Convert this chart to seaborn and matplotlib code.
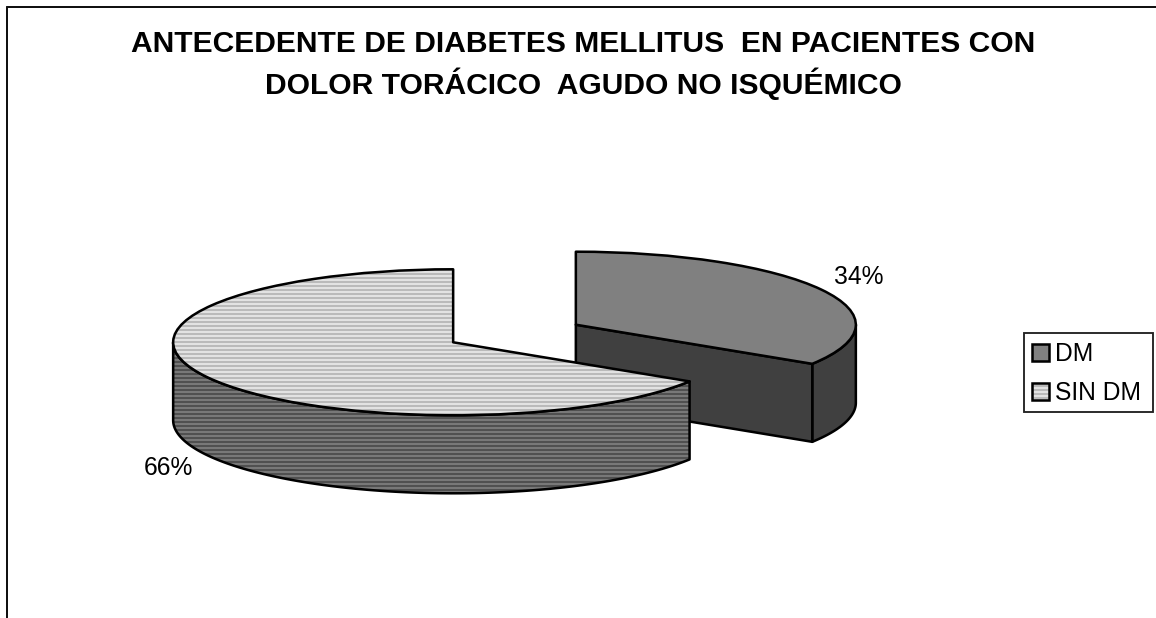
import numpy as np
import matplotlib
matplotlib.use("Agg")
import matplotlib.pyplot as plt
import seaborn as sns
from matplotlib.colors import to_rgba
from matplotlib.lines import Line2D
from matplotlib.patches import Patch, Rectangle

# Data
categories = ["DM", "SIN DM"]
shares = [34, 66]
pct_labels = ["34%", "66%"]
title_lines = ["ANTECEDENTE DE DIABETES MELLITUS  EN PACIENTES CON",
               "DOLOR TORÁCICO  AGUDO NO ISQUÉMICO"]

# Styling
top_colors = ["#808080", "#e2e2e2"]
wall_colors = ["#404040", "#787878"]
top_stripes = [None, "#bababa"]
wall_stripes = [None, "#505050"]
HATCH = "----"
W, H, DPI = 1156, 618, 96
RX, RY, DEPTH = 280.0, 73.0, 78.0   # ellipse radii and rim depth, pixels
CX, CY = 514.5, 333.5               # pie centre, pixels
EDGE_LW = 1.9

sns.set_theme(style="white", rc={"hatch.linewidth": 1.5})
plt.rcParams["font.family"] = ["Liberation Sans", "DejaVu Sans"]

fig = plt.figure(figsize=(W / DPI, H / DPI), dpi=DPI, facecolor="white")
ax = fig.add_axes([0, 0, 1, 1])


def set_stripes(patch, stripe):
    """Give a patch horizontal stripes in a colour apart from its outline."""
    if stripe is not None:
        patch.set_hatch(HATCH)
        patch._hatch_color = to_rgba(stripe)


wedges, _ = ax.pie(shares, explode=[0.25, 0.25], startangle=90, counterclock=False,
                   colors=top_colors,
                   wedgeprops={"edgecolor": "black", "linewidth": EDGE_LW})
ax.set_aspect("auto")
ax.set_xlim(-CX / RX, (W - CX) / RX)
ax.set_ylim(-(H - CY) / RY, CY / RY)
ax.set_axis_off()
depth = DEPTH / RY


def draw_wall(wedge, wall_color, stripe, z):
    """Draw the visible side of a slice below its top face."""
    cx, cy = wedge.center
    lo, hi = wedge.theta1 % 360, wedge.theta2 % 360
    if hi <= lo:
        hi += 360
    # The rim shows only on the front half of the ellipse
    a, b = max(lo, 180), min(hi, 360)
    if b > a:
        t = np.radians(np.linspace(a, b, 200))
        xs = cx + np.cos(t)
        ys = cy + np.sin(t)
        poly, = ax.fill(np.r_[xs, xs[::-1]], np.r_[ys, ys[::-1] - depth],
                        facecolor=wall_color, edgecolor="black",
                        linewidth=EDGE_LW, zorder=z, joinstyle="round")
        set_stripes(poly, stripe)
    # A cut face looks forward when the slice lies above that radius
    if 270 < lo < 360:
        t = np.radians(lo)
        xs = [cx, cx + np.cos(t)]
        ys = [cy, cy + np.sin(t)]
        poly, = ax.fill(xs + xs[::-1], ys + [y - depth for y in ys[::-1]],
                        facecolor=wall_color, edgecolor="black",
                        linewidth=EDGE_LW, zorder=z, joinstyle="round")
        set_stripes(poly, stripe)


# Back slice first, so the larger one overlaps it
for i, z in ((0, 1), (1, 3)):
    draw_wall(wedges[i], wall_colors[i], wall_stripes[i], z)
    wedges[i].set_zorder(z + 1)
    wedges[i].set_joinstyle("round")
    set_stripes(wedges[i], top_stripes[i])

# Percentage labels beside the rim, at each slice's mid angle
offsets = [(38, 13), (-39, -13)]
for wedge, text, (dx, dy), drop in zip(wedges, pct_labels, offsets, (0, depth)):
    mid = np.radians((wedge.theta1 + wedge.theta2) / 2)
    ax.annotate(text, (wedge.center[0] + np.cos(mid),
                       wedge.center[1] + np.sin(mid) - drop),
                xytext=(dx, dy), textcoords="offset pixels",
                ha="center", va="center", fontsize=18.5, color="black", zorder=6)

# Title
for text, y in zip(title_lines, (44, 84)):
    fig.text(583 / W, 1 - y / H, text, ha="center", va="center",
             fontsize=22.5, fontweight="bold", color="black")

# Chart area border, cut by the right and bottom of the image
frame = dict(color="#111111", linewidth=1.5, transform=fig.transFigure)
fig.add_artist(Line2D([7 / W, 7 / W], [0, 1 - 7 / H], **frame))
fig.add_artist(Line2D([7 / W, 1], [1 - 7 / H, 1 - 7 / H], **frame))

# Legend box and entries
fig.add_artist(Rectangle((1024 / W, 1 - 412 / H), 129 / W, 79 / H,
                         transform=fig.transFigure, facecolor="white",
                         edgecolor="#222222", linewidth=1.4, zorder=6))
handles = []
for cat, face, stripe in zip(categories, top_colors, top_stripes):
    h = Patch(facecolor=face, edgecolor="black", linewidth=EDGE_LW, label=cat)
    set_stripes(h, stripe)
    handles.append(h)
leg = fig.legend(handles=handles, loc="upper left",
                 bbox_to_anchor=(1032 / W, 1 - 342 / H), bbox_transform=fig.transFigure,
                 frameon=False, fontsize=18.5, labelcolor="black",
                 handlelength=0.68, handleheight=0.68, handletextpad=0.25,
                 labelspacing=0.62, borderpad=0, borderaxespad=0)
leg.set_zorder(7)

fig.savefig("out.png", dpi=DPI, facecolor="white")
